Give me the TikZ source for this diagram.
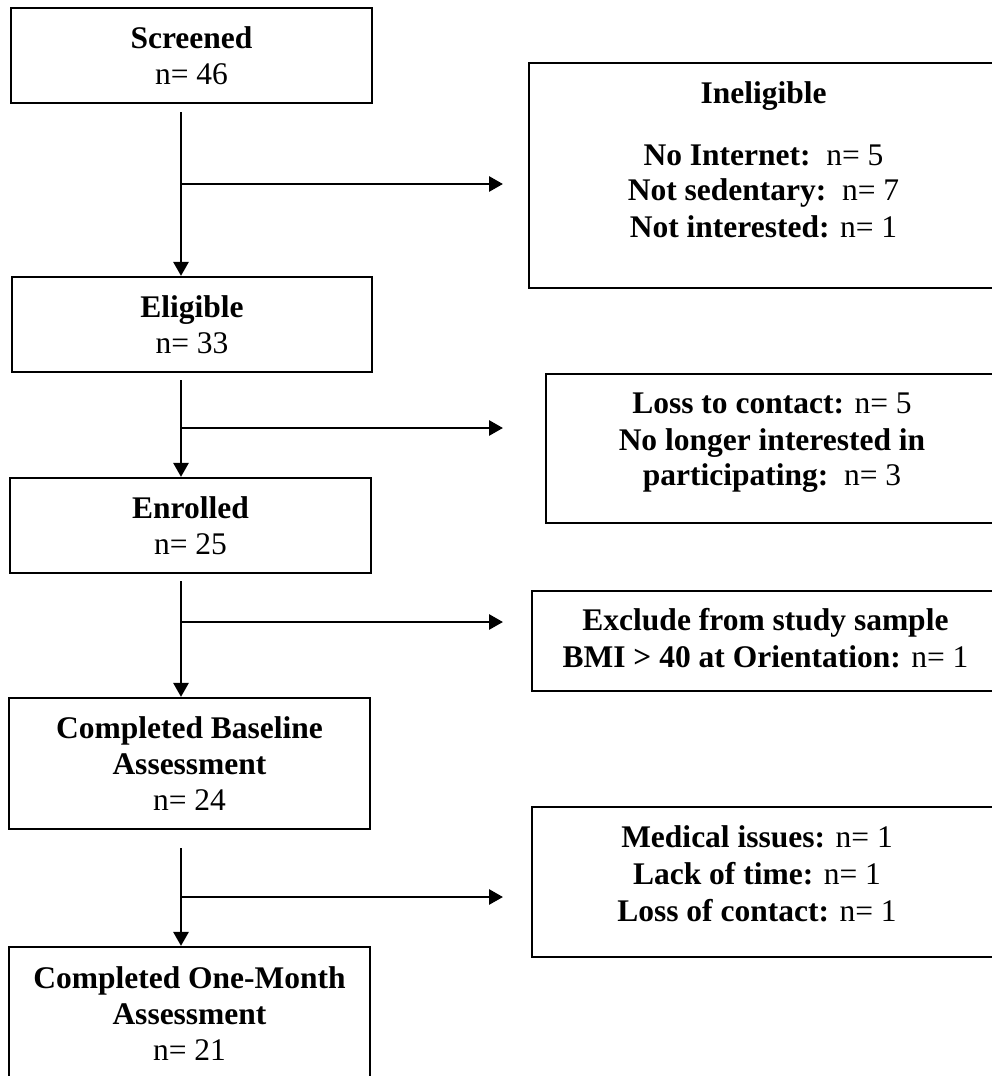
\documentclass[tikz,border=0pt]{standalone}
\usepackage{fontspec}
\setmainfont{Liberation Serif}
\usetikzlibrary{arrows.meta}
\newcommand\myfs{\fontsize{31.5}{35.7}\selectfont}
\begin{document}
\begin{tikzpicture}[x=1pt,y=-1pt,
  box/.style={draw,line width=2.2pt,rectangle,inner sep=0pt,align=center,font=\myfs},
  txt/.style={anchor=base,inner sep=0pt,font=\myfs},
  arr/.style={line width=2.8pt,-{Triangle[length=14pt,width=15pt]}}]
\path[use as bounding box,clip] (0,0) rectangle (992,1076);
\fill[white] (0,0) rectangle (992,1076);
% main column
\node[box,minimum width=361,minimum height=95] (scr) at (191.5,55.5) {\textbf{Screened}\\n= 46};
\node[box,minimum width=360,minimum height=95] (elig) at (192,324.5) {\textbf{Eligible}\\n= 33};
\node[box,minimum width=361,minimum height=95] (enr) at (190.5,525.5) {\textbf{Enrolled}\\n= 25};
\node[box,minimum width=361,minimum height=131] (base) at (189.5,763.5) {\textbf{Completed Baseline}\\\textbf{Assessment}\\n= 24};
\node[box,minimum width=361,minimum height=133] (one) at (189.5,1013.5) {\textbf{Completed One-Month}\\\textbf{Assessment}\\n= 21};
% side boxes
\node[box,minimum width=471,minimum height=225] (inel) at (764.5,175.5) {};
\node[txt] (inel1) at (763.5,103) {\textbf{Ineligible}};
\node[txt] (inel2) at (763.5,165) {\textbf{No Internet:}\ \ n= 5};
\node[txt] (inel3) at (763.5,200.7) {\textbf{Not sedentary:}\ \ n= 7};
\node[txt] (inel4) at (763.5,237) {\textbf{Not interested:} n= 1};
\node[box,minimum width=454,minimum height=149] (loss) at (773,448.5) {};
\node[txt] (loss1) at (772,413) {\textbf{Loss to contact:} n= 5};
\node[txt] (loss2) at (772,450) {\textbf{No longer interested in}};
\node[txt] (loss3) at (772,485) {\textbf{participating:}\ \ n= 3};
\node[box,minimum width=468,minimum height=100] (excl) at (766,641) {};
\node[txt] (excl1) at (765.5,630) {\textbf{Exclude from study sample}};
\node[txt] (excl2) at (765.5,667) {\textbf{BMI > 40 at Orientation:} n= 1};
\node[box,minimum width=468,minimum height=150] (med) at (766,882) {};
\node[txt] (med1) at (757,847) {\textbf{Medical issues:} n= 1};
\node[txt] (med2) at (757,884) {\textbf{Lack of time:} n= 1};
\node[txt] (med3) at (757,921) {\textbf{Loss of contact:} n= 1};
% connectors
\coordinate (v1) at (181,112); \coordinate (t1) at (503,184);
\coordinate (v2) at (181,380); \coordinate (t2) at (503,428);
\coordinate (v3) at (181,581); \coordinate (t3) at (503,622);
\coordinate (v4) at (181,848); \coordinate (t4) at (503,897);
\draw[arr] (v1) -- (v1 |- elig.north);
\draw[arr] (v1 |- t1) -- (t1);
\draw[arr] (v2) -- (v2 |- enr.north);
\draw[arr] (v2 |- t2) -- (t2);
\draw[arr] (v3) -- (v3 |- base.north);
\draw[arr] (v3 |- t3) -- (t3);
\draw[arr] (v4) -- (v4 |- one.north);
\draw[arr] (v4 |- t4) -- (t4);
\end{tikzpicture}
\end{document}
